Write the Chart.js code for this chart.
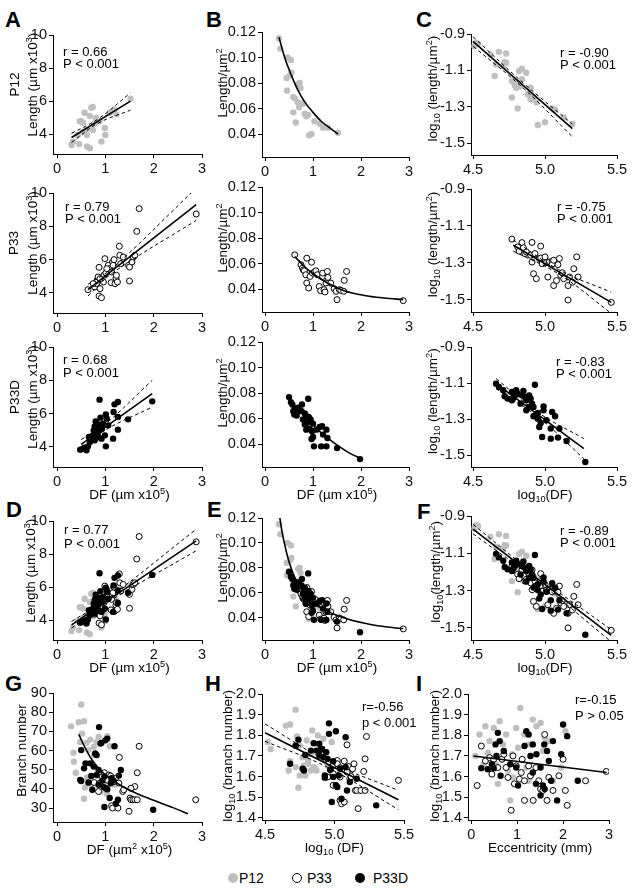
<!DOCTYPE html>
<html><head><meta charset="utf-8">
<script src="https://cdn.jsdelivr.net/npm/chart.js@4.4.1/dist/chart.umd.min.js"></script>
<style>
html,body{margin:0;padding:0;background:#fff;}
body{width:639px;height:892px;position:relative;overflow:hidden;font-family:'Liberation Sans',Arial,sans-serif;}
canvas{position:absolute;}
.lab{position:absolute;font-weight:bold;font-size:22px;line-height:22px;color:#000;}
.leg{position:absolute;font-size:14px;line-height:14px;color:#000;}
.dot{position:absolute;width:10px;height:10px;border-radius:50%;box-sizing:border-box;}
</style></head><body>
<div class="lab" style="left:5px;top:9px">A</div>
<div class="lab" style="left:206px;top:9px">B</div>
<div class="lab" style="left:416px;top:9px">C</div>
<div class="lab" style="left:6px;top:499px">D</div>
<div class="lab" style="left:207px;top:499px">E</div>
<div class="lab" style="left:417px;top:501px">F</div>
<div class="lab" style="left:5px;top:673px">G</div>
<div class="lab" style="left:205px;top:673px">H</div>
<div class="lab" style="left:416px;top:673px">I</div>
<div class="dot" style="left:228px;top:873px;background:#bfbfbf"></div>
<div class="leg" style="left:239px;top:871px">P12</div>
<div class="dot" style="left:292px;top:873px;border:1.5px solid #000;background:#fff"></div>
<div class="leg" style="left:307px;top:871px">P33</div>
<div class="dot" style="left:355px;top:873px;background:#000"></div>
<div class="leg" style="left:373px;top:871px">P33D</div>
<script>
// ---------- tick values ----------
const ticksDF = [0, 1, 2, 3];
const ticksLogDF = [4.5, 5.0, 5.5];
const ticksLength = [4, 6, 8, 10];
const ticksDensity = [0.04, 0.06, 0.08, 0.10, 0.12];
const ticksLogDensity = [-1.5, -1.3, -1.1, -0.9];
const ticksBranch = [30, 40, 50, 60, 70, 80, 90];
const ticksLogBranch = [1.4, 1.5, 1.6, 1.7, 1.8, 1.9, 2.0];

// ---------- DF vs dendritic length (µm x10^3) ----------
const p12Len = [[0.30,3.35],[0.33,3.55],[0.46,3.40],[0.62,3.25],[0.68,3.15],[0.43,3.95],[0.50,4.78],[0.54,4.70],[0.47,4.78],[0.57,5.30],[0.71,5.60],[0.74,5.65],[0.68,5.10],[0.61,4.25],[0.62,3.95],[0.81,4.98],[0.88,4.78],[0.99,4.37],[0.92,3.55],[1.00,3.95],[1.09,5.30],[1.19,5.50],[1.23,5.20],[1.52,6.15],[0.74,4.25],[0.54,4.15],[0.78,4.65]];
const p33Len = [[0.64,4.20],[0.78,4.36],[0.82,4.56],[0.83,4.76],[0.85,4.96],[0.87,5.54],[0.89,4.26],[0.87,3.82],[0.92,3.72],[0.96,4.66],[0.97,5.06],[0.99,6.06],[1.01,5.20],[1.06,5.66],[1.09,5.46],[1.12,4.62],[1.15,5.86],[1.16,5.66],[1.18,6.00],[1.20,4.56],[1.22,4.90],[1.25,4.66],[1.29,6.80],[1.30,6.26],[1.32,5.76],[1.37,6.16],[1.48,5.66],[1.50,4.72],[1.50,5.56],[1.55,5.86],[1.58,6.16],[1.61,6.26],[1.65,7.70],[1.70,9.06],[2.88,8.74],[0.75,4.56],[0.89,4.86],[1.03,5.46],[1.13,5.26],[1.23,5.06]];
const p33dLen = [[0.48,3.84],[0.54,3.90],[0.57,3.96],[0.61,3.80],[0.64,4.04],[0.66,4.60],[0.71,4.50],[0.74,4.70],[0.76,5.00],[0.78,5.24],[0.80,5.54],[0.81,5.16],[0.83,5.40],[0.85,4.60],[0.87,5.00],[0.88,6.84],[0.88,5.30],[0.90,5.76],[0.92,4.50],[0.93,5.10],[0.95,5.40],[0.99,4.70],[1.01,4.04],[1.01,5.96],[1.03,5.70],[1.06,5.30],[1.16,4.50],[1.17,6.10],[1.19,6.56],[1.26,6.70],[1.26,5.04],[1.26,5.80],[1.47,5.66],[1.97,6.74],[0.78,4.40],[0.85,4.90],[0.68,4.30]];

// ---------- DF vs length/µm^2 ----------
const p12Dens = [[0.29,0.115],[0.32,0.107],[0.47,0.100],[0.54,0.098],[0.55,0.088],[0.52,0.086],[0.45,0.084],[0.46,0.074],[0.59,0.069],[0.62,0.068],[0.59,0.057],[0.64,0.049],[0.69,0.079],[0.72,0.080],[0.74,0.076],[0.68,0.065],[0.76,0.064],[0.80,0.064],[0.83,0.056],[0.86,0.054],[0.97,0.040],[0.92,0.039],[1.14,0.048],[1.21,0.045],[1.31,0.045],[1.52,0.041],[0.71,0.061],[0.90,0.055],[1.03,0.050]];
const p33Dens = [[0.62,0.0668],[0.75,0.0590],[0.78,0.0564],[0.80,0.0550],[0.82,0.0543],[0.87,0.0642],[0.85,0.0512],[0.87,0.0447],[0.91,0.0408],[0.94,0.0499],[0.97,0.0610],[0.99,0.0525],[1.03,0.0533],[1.06,0.0543],[1.09,0.0512],[1.13,0.0420],[1.16,0.0387],[1.20,0.0499],[1.20,0.0525],[1.23,0.0395],[1.25,0.0377],[1.27,0.0447],[1.30,0.0538],[1.31,0.0491],[1.37,0.0447],[1.44,0.0403],[1.48,0.0382],[1.50,0.0317],[1.55,0.0395],[1.58,0.0390],[1.64,0.0382],[1.65,0.0468],[1.70,0.0538],[2.88,0.0309]];
const p33dDens = [[0.50,0.0768],[0.54,0.0729],[0.57,0.0710],[0.59,0.0658],[0.61,0.0631],[0.62,0.0671],[0.66,0.0624],[0.69,0.0684],[0.72,0.0666],[0.76,0.0658],[0.77,0.0710],[0.79,0.0592],[0.83,0.0639],[0.86,0.0618],[0.88,0.0566],[0.90,0.0755],[0.91,0.0613],[0.93,0.0518],[0.95,0.0592],[0.97,0.0439],[0.98,0.0500],[1.00,0.0455],[1.00,0.0560],[1.02,0.0382],[1.07,0.0513],[1.14,0.0534],[1.17,0.0382],[1.19,0.0540],[1.21,0.0474],[1.28,0.0382],[1.28,0.0513],[1.30,0.0447],[1.50,0.0368],[1.98,0.0282],[0.86,0.0513],[0.93,0.0579],[0.83,0.0553]];

// ---------- log10(DF) vs log10(length/µm^2) ----------
const p12Log = [[4.51,-0.967],[4.52,-0.949],[4.535,-0.953],[4.62,-1.013],[4.68,-0.998],[4.73,-1.007],[4.66,-1.067],[4.65,-1.131],[4.72,-1.055],[4.73,-1.058],[4.71,-1.076],[4.77,-1.158],[4.79,-1.182],[4.80,-1.195],[4.83,-1.189],[4.84,-1.149],[4.82,-1.104],[4.84,-1.091],[4.87,-1.113],[4.82,-1.167],[4.77,-1.249],[4.81,-1.309],[4.90,-1.195],[4.90,-1.258],[4.88,-1.231],[4.92,-1.249],[4.94,-1.276],[4.95,-1.400],[5.00,-1.385],[5.05,-1.309],[5.07,-1.316],[5.13,-1.358],[5.19,-1.395],[4.90,-1.244]];
const p33Log = [[4.77,-1.171],[4.81,-1.213],[4.82,-1.236],[4.84,-1.190],[4.85,-1.218],[4.86,-1.249],[4.87,-1.240],[4.90,-1.258],[4.91,-1.189],[4.91,-1.295],[4.92,-1.358],[4.93,-1.249],[4.94,-1.385],[4.96,-1.276],[4.97,-1.273],[4.97,-1.209],[4.98,-1.304],[5.00,-1.267],[5.01,-1.298],[5.02,-1.376],[5.03,-1.295],[5.05,-1.291],[5.05,-1.307],[5.06,-1.285],[5.06,-1.422],[5.08,-1.395],[5.09,-1.309],[5.10,-1.276],[5.11,-1.367],[5.12,-1.353],[5.13,-1.385],[5.16,-1.422],[5.16,-1.500],[5.17,-1.376],[5.19,-1.404],[5.20,-1.331],[5.22,-1.267],[5.23,-1.376],[5.46,-1.513]];
const p33dLog = [[4.66,-1.103],[4.68,-1.122],[4.71,-1.140],[4.72,-1.173],[4.74,-1.186],[4.77,-1.195],[4.78,-1.181],[4.79,-1.168],[4.80,-1.140],[4.81,-1.159],[4.84,-1.168],[4.85,-1.144],[4.86,-1.177],[4.87,-1.195],[4.89,-1.168],[4.89,-1.232],[4.90,-1.186],[4.91,-1.214],[4.92,-1.284],[4.93,-1.279],[4.93,-1.109],[4.95,-1.266],[4.95,-1.297],[4.96,-1.343],[4.97,-1.321],[4.98,-1.399],[4.99,-1.229],[4.99,-1.251],[5.01,-1.306],[5.04,-1.352],[5.04,-1.408],[5.05,-1.260],[5.07,-1.284],[5.09,-1.402],[5.10,-1.352],[5.15,-1.421],[5.28,-1.537],[4.83,-1.214],[4.87,-1.251],[4.92,-1.232],[4.77,-1.149]];

// ---------- DF vs branch number ----------
const p12Br = [[0.29,72.6],[0.34,58.8],[0.35,54.1],[0.39,48.4],[0.45,74.8],[0.50,84.0],[0.56,75.3],[0.52,68.8],[0.48,64.5],[0.61,64.0],[0.65,60.2],[0.69,65.7],[0.56,34.8],[0.58,40.7],[0.62,46.0],[0.69,46.4],[0.76,61.9],[0.77,57.6],[0.82,64.5],[0.86,67.1],[0.90,46.4],[0.94,40.3],[0.98,43.8],[1.04,67.4],[1.09,62.2],[1.09,47.2],[1.19,42.1],[0.90,38.6],[0.71,42.1],[1.03,37.4]];
const p33Br = [[0.77,43.3],[0.86,38.6],[0.88,42.9],[0.94,46.4],[0.98,48.4],[1.01,40.3],[1.07,47.2],[1.11,46.7],[1.13,31.2],[1.15,30.0],[1.18,43.8],[1.21,45.5],[1.26,30.0],[1.29,56.4],[1.36,38.6],[1.38,39.5],[1.49,28.3],[1.51,35.2],[1.53,34.3],[1.57,34.3],[1.61,34.3],[1.66,48.4],[1.66,34.3],[1.70,62.2],[1.61,41.2],[1.53,40.3],[2.87,34.3],[1.04,44.5],[1.28,43.0]];
const p33dBr = [[0.50,60.2],[0.50,44.1],[0.48,44.7],[0.56,50.7],[0.59,53.3],[0.65,43.3],[0.69,53.3],[0.71,46.7],[0.76,51.6],[0.79,58.4],[0.82,57.6],[0.82,47.2],[0.86,49.8],[0.87,72.2],[0.90,63.6],[0.92,64.0],[0.94,44.3],[0.97,40.9],[0.98,46.4],[0.98,30.5],[1.00,65.3],[1.04,66.2],[1.04,39.8],[1.09,35.2],[1.11,42.9],[1.13,45.5],[1.13,44.7],[1.17,44.3],[1.19,62.2],[1.22,32.2],[1.26,34.3],[1.28,46.9],[1.32,49.8],[1.99,29.1],[0.73,39.5],[0.86,42.1]];

// ---------- log10(DF) vs log10(branch number) ----------
const p12LogBr = [[4.52,1.767],[4.54,1.734],[4.65,1.847],[4.68,1.852],[4.72,1.924],[4.73,1.794],[4.74,1.546],[4.75,1.750],[4.77,1.694],[4.80,1.775],[4.81,1.678],[4.83,1.710],[4.84,1.823],[4.85,1.646],[4.86,1.759],[4.88,1.799],[4.89,1.694],[4.90,1.734],[4.68,1.675],[4.67,1.630],[4.75,1.606],[4.79,1.606],[4.83,1.630],[4.86,1.638],[4.92,1.783],[4.93,1.678],[4.95,1.654],[4.98,1.767],[4.78,1.654],[4.72,1.646],[4.81,1.662],[4.87,1.630]];
const p33LogBr = [[4.96,1.670],[4.97,1.633],[4.99,1.558],[4.99,1.654],[5.01,1.670],[5.02,1.678],[5.02,1.662],[5.04,1.643],[5.04,1.485],[5.05,1.469],[5.07,1.477],[5.07,1.675],[5.09,1.754],[5.09,1.622],[5.10,1.649],[5.11,1.590],[5.12,1.600],[5.13,1.638],[5.14,1.662],[5.15,1.533],[5.16,1.533],[5.17,1.445],[5.19,1.533],[5.21,1.625],[5.22,1.686],[5.22,1.533],[5.23,1.794],[5.46,1.582],[5.04,1.598],[4.99,1.614],[4.95,1.598]];
const p33dLogBr = [[4.68,1.662],[4.72,1.750],[4.74,1.779],[4.77,1.638],[4.78,1.630],[4.79,1.705],[4.83,1.726],[4.85,1.762],[4.87,1.726],[4.89,1.759],[4.89,1.702],[4.90,1.730],[4.91,1.734],[4.92,1.694],[4.93,1.595],[4.94,1.718],[4.95,1.686],[4.96,1.858],[4.96,1.807],[4.97,1.633],[4.98,1.477],[4.99,1.598],[4.99,1.675],[5.01,1.820],[5.01,1.558],[5.02,1.550],[5.03,1.606],[5.04,1.638],[5.08,1.791],[5.08,1.646],[5.09,1.533],[5.11,1.574],[5.16,1.590],[5.30,1.461],[5.05,1.493],[4.93,1.606]];

// ---------- eccentricity (mm) vs log10(branch number) ----------
const p12Ecc = [[0.09,1.700],[0.18,1.804],[0.31,1.844],[0.36,1.716],[0.40,1.772],[0.49,1.836],[0.53,1.660],[0.62,1.868],[0.69,1.756],[0.76,1.804],[0.80,1.628],[0.85,1.485],[0.91,1.596],[0.98,1.836],[1.02,1.740],[1.07,1.932],[1.16,1.804],[1.20,1.644],[1.25,1.756],[1.34,1.876],[1.42,1.844],[1.51,1.860],[1.56,1.724],[1.60,1.788],[1.69,1.772],[1.78,1.580],[1.96,1.644],[2.05,1.820],[0.58,1.565],[1.25,1.580],[0.27,1.660],[0.89,1.708]];
const p33Ecc = [[0.13,1.557],[0.22,1.748],[0.31,1.676],[0.40,1.692],[0.45,1.612],[0.49,1.684],[0.58,1.644],[0.67,1.684],[0.71,1.708],[0.76,1.644],[0.80,1.596],[0.87,1.437],[0.91,1.700],[0.98,1.652],[1.05,1.588],[1.09,1.620],[1.11,1.684],[1.16,1.485],[1.25,1.652],[1.29,1.604],[1.35,1.485],[1.41,1.644],[1.47,1.580],[1.51,1.540],[1.56,1.533],[1.60,1.804],[1.65,1.485],[1.69,1.596],[1.78,1.533],[1.91,1.604],[2.00,1.684],[2.05,1.533],[2.09,1.461],[2.49,1.580],[2.94,1.625],[0.94,1.565],[1.16,1.580]];
const p33dEcc = [[0.22,1.641],[0.36,1.636],[0.45,1.660],[0.49,1.641],[0.53,1.756],[0.55,1.700],[0.58,1.812],[0.62,1.772],[0.64,1.604],[0.71,1.724],[0.85,1.660],[0.98,1.644],[1.02,1.557],[1.16,1.748],[1.20,1.820],[1.25,1.804],[1.29,1.700],[1.34,1.756],[1.34,1.620],[1.41,1.565],[1.42,1.708],[1.51,1.509],[1.56,1.557],[1.59,1.756],[1.60,1.540],[1.65,1.724],[1.69,1.676],[1.74,1.580],[1.78,1.772],[1.87,1.485],[1.96,1.708],[2.00,1.852],[2.09,1.796],[2.32,1.580],[1.51,1.644]];

// ---------- fitted lines / curves and 95% bands ----------
const fitA1 = [[0.30,3.80],[1.52,6.00]];
const ciA1Hi = [[0.30,4.05],[0.85,4.92],[1.52,6.50]];
const ciA1Lo = [[0.30,3.50],[0.85,4.66],[1.52,5.45]];
const fitA2 = [[0.64,4.20],[2.88,9.30]];
const ciA2Hi = [[0.64,4.52],[1.15,5.50],[2.88,10.30]];
const ciA2Lo = [[0.64,3.82],[1.15,5.20],[2.88,8.36]];
const fitA3 = [[0.50,4.16],[1.97,7.20]];
const ciA3Hi = [[0.50,4.45],[0.95,5.25],[1.97,8.00]];
const ciA3Lo = [[0.50,3.82],[0.95,4.93],[1.97,6.40]];
const fitB1 = [[0.29,0.116],[0.41,0.100],[0.55,0.086],[0.69,0.074],[0.83,0.065],[1.00,0.057],[1.17,0.050],[1.34,0.045],[1.52,0.040]];
const fitB2 = [[0.62,0.0655],[0.82,0.0577],[1.03,0.0512],[1.30,0.0447],[1.65,0.0387],[2.07,0.0350],[2.48,0.0330],[2.88,0.0317]];
const fitB3 = [[0.52,0.0742],[0.69,0.0671],[0.90,0.0592],[1.10,0.0513],[1.31,0.0447],[1.52,0.0387],[1.76,0.0329],[1.98,0.0290]];
const fitC1 = [[4.50,-0.940],[5.19,-1.420]];
const ciC1Hi = [[4.50,-0.915],[4.85,-1.170],[5.19,-1.395]];
const ciC1Lo = [[4.50,-0.967],[4.85,-1.198],[5.19,-1.465]];
const fitC2 = [[4.78,-1.204],[5.46,-1.513]];
const ciC2Hi = [[4.78,-1.176],[5.10,-1.338],[5.46,-1.458]];
const ciC2Lo = [[4.78,-1.236],[5.10,-1.362],[5.46,-1.572]];
const fitC3 = [[4.66,-1.103],[5.27,-1.463]];
const ciC3Hi = [[4.66,-1.075],[4.95,-1.262],[5.27,-1.408]];
const ciC3Lo = [[4.66,-1.131],[4.95,-1.287],[5.27,-1.519]];
const fitD = [[0.30,3.72],[2.88,8.80]];
const ciDHi = [[0.30,3.92],[1.00,5.20],[2.88,9.50]];
const ciDLo = [[0.30,3.52],[1.00,5.00],[2.88,8.20]];
const fitE = [[0.28,0.128],[0.35,0.110],[0.45,0.092],[0.55,0.079],[0.70,0.066],[0.85,0.058],[1.00,0.052],[1.30,0.045],[1.70,0.039],[2.20,0.0345],[2.88,0.031]];
const fitF = [[4.50,-0.970],[5.46,-1.540]];
const ciFHi = [[4.50,-0.945],[4.95,-1.225],[5.46,-1.510]];
const ciFLo = [[4.50,-0.995],[4.95,-1.250],[5.46,-1.575]];
const fitG = [[0.45,68.5],[0.55,63.0],[0.70,56.0],[0.85,51.0],[1.00,47.3],[1.30,42.0],[1.70,37.0],[2.00,34.0],[2.40,30.2],[2.71,27.0]];
const fitH = [[4.50,1.812],[5.46,1.488]];
const ciHHi = [[4.50,1.855],[4.95,1.675],[5.46,1.533]];
const ciHLo = [[4.50,1.771],[4.95,1.645],[5.46,1.440]];
const fitI = [[0.05,1.700],[2.95,1.620]];

// ---------- drawing helpers ----------
const FONT = "'Liberation Sans', Arial, Helvetica, sans-serif";
const TICK = 14.5;
const GRAY = '#bfbfbf';
const pts = a => a.map(p => ({x: p[0], y: p[1]}));
const grayDs = a => ({data: pts(a), pointRadius: 3.2, pointBackgroundColor: GRAY, pointBorderColor: GRAY, pointBorderWidth: 0, showLine: false});
const openDs = a => ({data: pts(a), pointRadius: 3, pointBackgroundColor: '#fff', pointBorderColor: '#000', pointBorderWidth: 1, showLine: false});
const blackDs = a => ({data: pts(a), pointRadius: 3.2, pointBackgroundColor: '#000', pointBorderColor: '#000', pointBorderWidth: 0, showLine: false});
const solid = (a, curve) => ({data: pts(a), showLine: true, pointRadius: 0, borderColor: '#000', borderWidth: 1.6, fill: false, tension: 0, cubicInterpolationMode: curve ? 'monotone' : 'default'});
const dashed = a => ({data: pts(a), showLine: true, pointRadius: 0, borderColor: '#000', borderWidth: 1, borderDash: [3.5, 3], fill: false, tension: 0.4});

function segs(s) {
  const out = []; const re = /([\^_])\{([^}]*)\}/g; let last = 0, m;
  while ((m = re.exec(s))) {
    if (m.index > last) out.push({t: s.slice(last, m.index), k: 0});
    out.push({t: m[2], k: m[1] === '^' ? 1 : -1});
    last = re.lastIndex;
  }
  if (last < s.length) out.push({t: s.slice(last), k: 0});
  return out;
}
function rich(ctx, s, x, y, size, align) {
  const sg = segs(s);
  const f = k => (k ? size * 0.68 : size) + 'px ' + FONT;
  let w = 0;
  sg.forEach(g => { ctx.font = f(g.k); g.w = ctx.measureText(g.t).width; w += g.w; });
  let cx = align === 'center' ? x - w / 2 : x;
  const base = y + size * 0.36;
  ctx.textAlign = 'left'; ctx.textBaseline = 'alphabetic';
  sg.forEach(g => {
    ctx.font = f(g.k);
    const dy = g.k === 1 ? -size * 0.38 : (g.k === -1 ? size * 0.22 : 0);
    ctx.fillText(g.t, cx, base + dy); cx += g.w;
  });
}
function drawDecor(chart, p) {
  const ctx = chart.ctx, a = chart.chartArea, xs = chart.scales.x, ys = chart.scales.y;
  ctx.save(); ctx.fillStyle = '#000';
  const ycen = (ys.getPixelForValue(p.yt[0]) + ys.getPixelForValue(p.yt[p.yt.length - 1])) / 2;
  const xcen = (xs.getPixelForValue(p.xt[0]) + xs.getPixelForValue(p.xt[p.xt.length - 1])) / 2;
  (p.yTitle || []).forEach(([s, off]) => {
    ctx.save(); ctx.translate(a.left - off, ycen); ctx.rotate(-Math.PI / 2);
    rich(ctx, s, 0, 0, 13.5, 'center'); ctx.restore();
  });
  if (p.xTitle) rich(ctx, p.xTitle, xcen, a.bottom + 27, 13.5, 'center');
  (p.notes || []).forEach(([s, dx, dy]) => rich(ctx, s, a.left + dx, a.top + dy, 13, 'left'));
  ctx.restore();
}
function axis(min, max, ticks, dec, pos, size) {
  return {
    type: 'linear', position: pos, min: min, max: max,
    afterBuildTicks: s => { s.ticks = ticks.map(v => ({value: v})); },
    afterFit: s => { if (pos === 'bottom') s.height = size; else s.width = size; },
    grid: {display: true, drawOnChartArea: false, drawTicks: true, tickLength: 4, color: '#000', lineWidth: 1},
    border: {display: true, color: '#000', width: 1},
    ticks: {color: '#111', padding: 2, font: {family: FONT, size: TICK}, maxRotation: 0, minRotation: 0, autoSkip: false,
      callback: v => Number(v).toFixed(dec)}
  };
}
function panel(p) {
  const [L, R, T, B] = p.area;
  const padL = 52, padT = 14, padR = 16, padB = 42;
  const W = R - L + padL + padR, H = B - T + padT + padB;
  const cv = document.createElement('canvas');
  cv.width = W; cv.height = H;
  cv.style.left = (L - padL) + 'px'; cv.style.top = (T - padT) + 'px';
  cv.style.width = W + 'px'; cv.style.height = H + 'px';
  document.body.appendChild(cv);
  new Chart(cv, {
    type: 'scatter',
    data: {datasets: p.ds},
    options: {
      responsive: false, animation: false, devicePixelRatio: 1, events: [],
      layout: {padding: {left: 0, top: padT, right: padR, bottom: 0}},
      plugins: {legend: {display: false}, tooltip: {enabled: false}},
      scales: {x: axis(p.x[0], p.x[1], p.xt, p.xd, 'bottom', padB), y: axis(p.y[0], p.y[1], p.yt, p.yd, 'left', padL)}
    },
    plugins: [{id: 'decor', afterDraw: c => drawDecor(c, p)}]
  });
}

const XA = [-0.083, 3], XB = [-0.0625, 3], XC = [4.486, 5.5];
const YA = [2.8, 10], YB = [0.022, 0.12], YC = [-1.565, -0.9];
const lenTitle = 'Length (µm x10^{3})', densTitle = 'Length/µm^{2}', logTitle = 'log_{10} (length/µm^{2})';
const dfTitle = 'DF (µm x10^{5})';

// Row 1 (P12)
panel({area: [53, 202, 35, 154], x: XA, xt: ticksDF, xd: 0, y: YA, yt: ticksLength, yd: 0,
  yTitle: [['P12', 39], [lenTitle, 21]], notes: [['r = 0.66', 10, 16], ['P < 0.001', 10, 28]],
  ds: [solid(fitA1), dashed(ciA1Hi), dashed(ciA1Lo), grayDs(p12Len)]});
panel({area: [262, 409, 32, 157], x: XB, xt: ticksDF, xd: 0, y: YB, yt: ticksDensity, yd: 2,
  yTitle: [[densTitle, 40]], ds: [solid(fitB1, true), grayDs(p12Dens)]});
panel({area: [471, 617, 34, 155], x: XC, xt: ticksLogDF, xd: 1, y: YC, yt: ticksLogDensity, yd: 1,
  yTitle: [[logTitle, 39]], notes: [['r = -0.90', 89, 18], ['P < 0.001', 89, 30]],
  ds: [solid(fitC1), dashed(ciC1Hi), dashed(ciC1Lo), grayDs(p12Log)]});
// Row 2 (P33)
panel({area: [53, 202, 193, 313], x: XA, xt: ticksDF, xd: 0, y: YA, yt: ticksLength, yd: 0,
  yTitle: [['P33', 40], [lenTitle, 21]], notes: [['r = 0.79', 12, 13], ['P < 0.001', 12, 25]],
  ds: [solid(fitA2), dashed(ciA2Hi), dashed(ciA2Lo), openDs(p33Len)]});
panel({area: [262, 409, 187, 312], x: XB, xt: ticksDF, xd: 0, y: YB, yt: ticksDensity, yd: 2,
  yTitle: [[densTitle, 40]], ds: [solid(fitB2, true), openDs(p33Dens)]});
panel({area: [471, 617, 189, 312], x: XC, xt: ticksLogDF, xd: 1, y: YC, yt: ticksLogDensity, yd: 1,
  yTitle: [[logTitle, 39]], notes: [['r = -0.75', 86, 17], ['P < 0.001', 86, 29]],
  ds: [solid(fitC2), dashed(ciC2Hi), dashed(ciC2Lo), openDs(p33Log)]});
// Row 3 (P33D)
panel({area: [53, 202, 347, 467], x: XA, xt: ticksDF, xd: 0, y: YA, yt: ticksLength, yd: 0,
  yTitle: [['P33D', 39], [lenTitle, 21]], xTitle: dfTitle, notes: [['r = 0.68', 10, 12], ['P < 0.001', 10, 25]],
  ds: [solid(fitA3), dashed(ciA3Hi), dashed(ciA3Lo), blackDs(p33dLen)]});
panel({area: [262, 409, 342, 467], x: XB, xt: ticksDF, xd: 0, y: YB, yt: ticksDensity, yd: 2,
  yTitle: [[densTitle, 40]], xTitle: dfTitle, ds: [solid(fitB3, true), blackDs(p33dDens)]});
panel({area: [471, 617, 347, 467], x: XC, xt: ticksLogDF, xd: 1, y: YC, yt: ticksLogDensity, yd: 1,
  yTitle: [[logTitle, 39]], xTitle: 'log_{10}(DF)', notes: [['r = -0.83', 85, 14], ['P < 0.001', 85, 26]],
  ds: [solid(fitC3), dashed(ciC3Hi), dashed(ciC3Lo), blackDs(p33dLog)]});
// Row 4 (pooled)
panel({area: [53, 202, 521, 640], x: XA, xt: ticksDF, xd: 0, y: YA, yt: ticksLength, yd: 0,
  yTitle: [[lenTitle, 23]], xTitle: dfTitle, notes: [['r = 0.77', 11, 8], ['P < 0.001', 11, 22]],
  ds: [solid(fitD), dashed(ciDHi), dashed(ciDLo), blackDs(p33dLen), openDs(p33Len), grayDs(p12Len)]});
panel({area: [262, 409, 518, 640], x: XB, xt: ticksDF, xd: 0, y: YB, yt: ticksDensity, yd: 2,
  yTitle: [[densTitle, 40]], xTitle: dfTitle,
  ds: [solid(fitE, true), blackDs(p33dDens), openDs(p33Dens), grayDs(p12Dens)]});
panel({area: [471, 617, 516, 640], x: XC, xt: ticksLogDF, xd: 1, y: YC, yt: ticksLogDensity, yd: 1,
  yTitle: [['log_{10}(length/µm^{2})', 36]], xTitle: 'log_{10}(DF)', notes: [['r = -0.89', 89, 14], ['P < 0.001', 89, 26]],
  ds: [solid(fitF), dashed(ciFHi), dashed(ciFLo), blackDs(p33dLog), openDs(p33Log), grayDs(p12Log)]});
// Row 5 (branching)
panel({area: [53, 202, 693, 822], x: XA, xt: ticksDF, xd: 0, y: [22.7, 90], yt: ticksBranch, yd: 0,
  yTitle: [['Branch number', 32]], xTitle: 'DF (µm^{2} x10^{5})',
  ds: [solid(fitG, true), blackDs(p33dBr), openDs(p33Br), grayDs(p12Br)]});
panel({area: [262, 404, 694, 820], x: [4.478, 5.5], xt: ticksLogDF, xd: 1, y: [1.39, 2.0], yt: ticksLogBranch, yd: 1,
  yTitle: [['log_{10} (branch number)', 35]], xTitle: 'log_{10} (DF)', notes: [['r=-0.56', 100, 12], ['p < 0.001', 100, 28]],
  ds: [solid(fitH), dashed(ciHHi), dashed(ciHLo), blackDs(p33dLogBr), openDs(p33LogBr), grayDs(p12LogBr)]});
panel({area: [468, 609, 694, 820], x: [-0.07, 3], xt: ticksDF, xd: 0, y: [1.39, 2.0], yt: ticksLogBranch, yd: 1,
  yTitle: [['log_{10} (branch number)', 34]], xTitle: 'Eccentricity (mm)', notes: [['r=-0.15', 107, 5], ['P > 0.05', 107, 21]],
  ds: [solid(fitI), blackDs(p33dEcc), openDs(p33Ecc), grayDs(p12Ecc)]});
</script>
</body></html>
